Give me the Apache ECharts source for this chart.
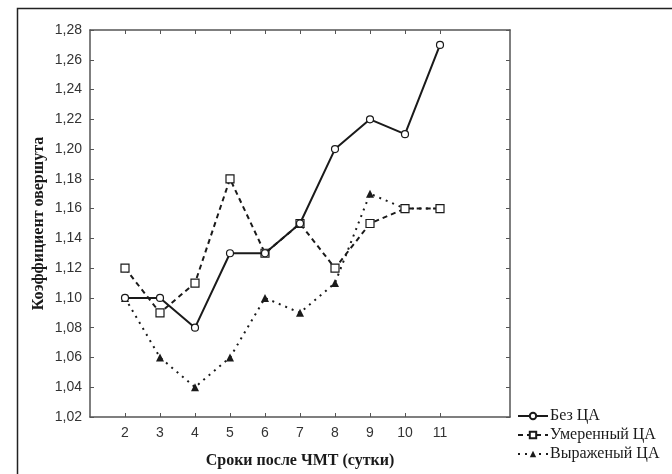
<!DOCTYPE html>
<html><head><meta charset="utf-8">
<script src="https://cdn.jsdelivr.net/npm/echarts@6/dist/echarts.min.js"></script>
<style>html,body{margin:0;padding:0;background:#fff}#c{width:672px;height:474px}</style>
</head><body><div id="c"></div>
<script>
const days = [2, 3, 4, 5, 6, 7, 8, 9, 10, 11];
const bezCA = [1.10, 1.10, 1.08, 1.13, 1.13, 1.15, 1.20, 1.22, 1.21, 1.27];
const umerennyCA = [1.12, 1.09, 1.11, 1.18, 1.13, 1.15, 1.12, 1.15, 1.16, 1.16];
const vyrazhenyCA = [1.10, 1.06, 1.04, 1.06, 1.10, 1.09, 1.11, 1.17, 1.16, 1.16];
const seriesNames = ['Без ЦА', 'Умеренный ЦА', 'Выраженый ЦА'];
const xTicks = [2, 3, 4, 5, 6, 7, 8, 9, 10, 11];
const yTicks = [1.02, 1.04, 1.06, 1.08, 1.10, 1.12, 1.14, 1.16, 1.18, 1.20, 1.22, 1.24, 1.26, 1.28];

const pair = arr => days.map((d, i) => [d, arr[i]]);
const ink = '#1a1a1a';
const axisCol = '#555';
const serif = '"Liberation Serif", "DejaVu Serif", serif';
const sans = '"Liberation Sans", Arial, sans-serif';

const chart = echarts.init(document.getElementById('c'));
const xBase = {
  type: 'value', min: 1, max: 13, interval: 1,
  splitLine: { show: false },
  axisLine: { show: true, onZero: false, lineStyle: { color: axisCol, width: 1.5 } },
  axisTick: { show: true, inside: true, length: 4, customValues: xTicks, lineStyle: { color: axisCol } }
};
const yBase = {
  type: 'value', min: 1.02, max: 1.28, interval: 0.02,
  splitLine: { show: false },
  axisLine: { show: true, onZero: false, lineStyle: { color: axisCol, width: 1.5 } },
  axisTick: { show: true, inside: true, length: 4, customValues: yTicks, lineStyle: { color: axisCol } }
};
chart.setOption({
  animation: false,
  backgroundColor: '#fff',
  graphic: [{
    type: 'rect', left: 15, top: 6, shape: { width: 700, height: 520 },
    style: { fill: 'none', stroke: '#222', lineWidth: 1.5 }, silent: true
  }],
  grid: { left: 90, top: 30, right: 162, bottom: 57, show: false },
  legend: {
    orient: 'vertical', left: 512, top: 403, itemWidth: 30, itemHeight: 8, itemGap: 3,
    data: seriesNames,
    textStyle: { fontFamily: serif, fontSize: 16, color: ink, padding: [0, 0, 0, -3] }
  },
  xAxis: [
    Object.assign({}, xBase, {
      position: 'bottom',
      axisLabel: { show: true, customValues: xTicks, fontFamily: sans, fontSize: 14, color: '#333', margin: 9 },
      name: 'Сроки после ЧМТ (сутки)', nameLocation: 'middle', nameGap: 36,
      nameTextStyle: { fontFamily: serif, fontSize: 16, fontWeight: 'bold', color: ink }
    }),
    Object.assign({}, xBase, { position: 'top', axisLabel: { show: false } })
  ],
  yAxis: [
    Object.assign({}, yBase, {
      position: 'left',
      axisLabel: { show: true, fontFamily: sans, fontSize: 14, color: '#333', margin: 8,
        formatter: v => v.toFixed(2).replace('.', ',') },
      name: 'Коэффициент овершута', nameLocation: 'middle', nameGap: 43, nameMoveOverlap: false,
      nameTextStyle: { fontFamily: serif, fontSize: 16, fontWeight: 'bold', color: ink }
    }),
    Object.assign({}, yBase, { position: 'right', axisLabel: { show: false } })
  ],
  series: [
    {
      name: seriesNames[0], type: 'line', data: pair(bezCA),
      symbol: 'circle', symbolSize: 7,
      lineStyle: { color: ink, width: 2, type: 'solid' },
      itemStyle: { color: '#fff', borderColor: ink, borderWidth: 1.2 }, z: 4
    },
    {
      name: seriesNames[1], type: 'line', data: pair(umerennyCA),
      symbol: 'rect', symbolSize: 8,
      lineStyle: { color: ink, width: 2, type: [5, 4] },
      itemStyle: { color: '#fff', borderColor: ink, borderWidth: 1.2 }, z: 3
    },
    {
      name: seriesNames[2], type: 'line', data: pair(vyrazhenyCA),
      symbol: 'triangle', symbolSize: 8,
      lineStyle: { color: ink, width: 2, type: [2, 5] },
      itemStyle: { color: ink, borderColor: ink, borderWidth: 0 }, z: 2
    }
  ]
});
</script></body></html>
